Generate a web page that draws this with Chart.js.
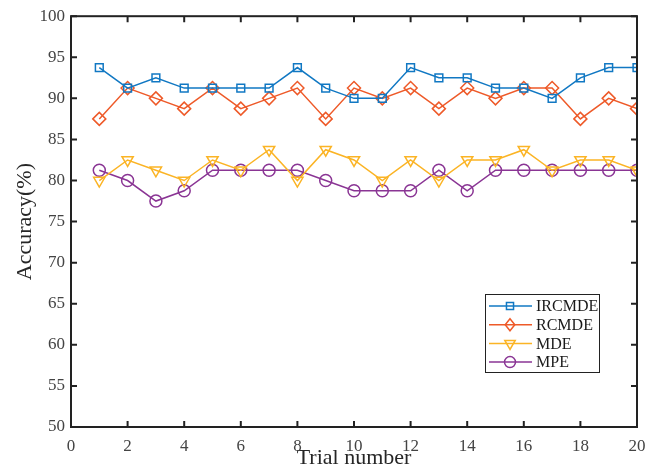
<!DOCTYPE html>
<html>
<head>
<meta charset="utf-8">
<script src="https://cdn.jsdelivr.net/npm/chart.js@4.4.1/dist/chart.umd.min.js"></script>
<style>
  html, body { margin: 0; padding: 0; background: #fff; }
  #wrap { width: 658px; height: 468px; }
</style>
</head>
<body>
<div id="wrap"><canvas id="chart" width="658" height="468"></canvas></div>
<script>
// data
const trials = [1, 2, 3, 4, 5, 6, 7, 8, 9, 10, 11, 12, 13, 14, 15, 16, 17, 18, 19, 20]
const ircmde = [93.75, 91.25, 92.5, 91.25, 91.25, 91.25, 91.25, 93.75, 91.25, 90, 90, 93.75, 92.5, 92.5, 91.25, 91.25, 90, 92.5, 93.75, 93.75]
const rcmde = [87.5, 91.25, 90, 88.75, 91.25, 88.75, 90, 91.25, 87.5, 91.25, 90, 91.25, 88.75, 91.25, 90, 91.25, 91.25, 87.5, 90, 88.75]
const mde = [80, 82.5, 81.25, 80, 82.5, 81.25, 83.75, 80, 83.75, 82.5, 80, 82.5, 80, 82.5, 82.5, 83.75, 81.25, 82.5, 82.5, 81.25]
const mpe = [81.25, 80, 77.5, 78.75, 81.25, 81.25, 81.25, 81.25, 80, 78.75, 78.75, 78.75, 81.25, 78.75, 81.25, 81.25, 81.25, 81.25, 81.25, 81.25]

const seriesNames = ['IRCMDE', 'RCMDE', 'MDE', 'MPE']
const seriesColors = ['#1178c3', '#ee5a29', '#fbb425', '#8a3594']
const seriesMarkers = ['rect', 'rectRot', 'triangle', 'circle']
const seriesRotation = [0, 0, 180, 0]
const seriesRadius = [5.5, 6.5, 6.5, 6]

const fontFamily = '"Liberation Serif", "Times New Roman", serif'
const axisColor = '#222'

const toPoints = (vals) => trials.map((t, i) => ({x: t, y: vals[i]}))
const allSeries = [ircmde, rcmde, mde, mpe]

const datasets = allSeries.map((vals, i) => ({
  label: seriesNames[i],
  data: toPoints(vals),
  borderColor: seriesColors[i],
  backgroundColor: 'transparent',
  borderWidth: 1.5,
  pointStyle: seriesMarkers[i],
  rotation: seriesRotation[i],
  pointRadius: seriesRadius[i],
  pointBorderWidth: 1.5,
  pointBackgroundColor: 'transparent',
  pointBorderColor: seriesColors[i],
  tension: 0,
}))

// draw a marker (for the legend)
function marker(ctx, style, x, y, r, rot) {
  ctx.beginPath()
  if (style === 'rect') {
    const s = r * Math.SQRT1_2
    ctx.rect(x - s, y - s, 2 * s, 2 * s)
  } else if (style === 'rectRot') {
    ctx.moveTo(x, y - r)
    ctx.lineTo(x + r * 0.8, y)
    ctx.lineTo(x, y + r)
    ctx.lineTo(x - r * 0.8, y)
    ctx.closePath()
  } else if (style === 'triangle') {
    const a = (rot || 0) * Math.PI / 180
    for (let k = 0; k < 3; k++) {
      const ang = a + k * 2 * Math.PI / 3
      const px = x + Math.sin(ang) * r
      const py = y - Math.cos(ang) * r
      if (k === 0) ctx.moveTo(px, py)
      else ctx.lineTo(px, py)
    }
    ctx.closePath()
  } else {
    ctx.arc(x, y, r, 0, Math.PI * 2)
  }
  ctx.stroke()
}

// box axes with inward ticks on all four sides
const frame = {
  id: 'frame',
  afterDatasetsDraw(chart) {
    const {ctx, chartArea: a, scales} = chart
    const tl = 6
    ctx.save()
    ctx.strokeStyle = axisColor
    ctx.lineWidth = 2
    ctx.strokeRect(a.left, a.top, a.right - a.left, a.bottom - a.top)
    ctx.beginPath()
    scales.x.ticks.forEach((t) => {
      const px = scales.x.getPixelForValue(t.value)
      ctx.moveTo(px, a.bottom); ctx.lineTo(px, a.bottom - tl)
      ctx.moveTo(px, a.top); ctx.lineTo(px, a.top + tl)
    })
    scales.y.ticks.forEach((t) => {
      const py = scales.y.getPixelForValue(t.value)
      ctx.moveTo(a.left, py); ctx.lineTo(a.left + tl, py)
      ctx.moveTo(a.right, py); ctx.lineTo(a.right - tl, py)
    })
    ctx.stroke()
    ctx.restore()
  },
}

// MATLAB style legend box
const legendBox = {
  id: 'legendBox',
  afterDraw(chart) {
    const {ctx} = chart
    const x0 = 485, y0 = 294, w = 114, h = 78
    const rowH = 18.7
    ctx.save()
    ctx.fillStyle = '#fff'
    ctx.fillRect(x0, y0, w, h)
    ctx.strokeStyle = axisColor
    ctx.lineWidth = 1
    ctx.strokeRect(x0 + 0.5, y0 + 0.5, w, h)
    ctx.font = '16px ' + fontFamily
    ctx.textBaseline = 'middle'
    chart.data.datasets.forEach((ds, i) => {
      const y = y0 + 12 + i * rowH
      ctx.strokeStyle = ds.borderColor
      ctx.lineWidth = 1.5
      ctx.beginPath()
      ctx.moveTo(x0 + 4, y); ctx.lineTo(x0 + 47, y)
      ctx.stroke()
      marker(ctx, seriesMarkers[i], x0 + 25, y, seriesRadius[i] - 0.5, seriesRotation[i])
      ctx.fillStyle = '#1a1a1a'
      ctx.fillText(ds.label, x0 + 51, y + 1)
    })
    ctx.restore()
  },
}

new Chart(document.getElementById('chart'), {
  type: 'line',
  data: {datasets},
  plugins: [frame, legendBox],
  options: {
    responsive: false,
    animation: false,
    layout: {padding: {top: 13, right: 21, left: 0, bottom: 0}},
    plugins: {legend: {display: false}, tooltip: {enabled: false}},
    scales: {
      x: {
        type: 'linear',
        min: 0,
        max: 20,
        afterFit: (s) => { s.height = 41 },
        grid: {display: false, drawTicks: false},
        border: {display: false},
        ticks: {stepSize: 2, padding: 9, color: '#444', font: {family: fontFamily, size: 17}},
        title: {display: true, text: 'Trial number', color: '#262626', padding: {top: 0, bottom: -3}, font: {family: fontFamily, size: 22}},
      },
      y: {
        min: 50,
        max: 100,
        afterFit: (s) => { s.width = 71 },
        grid: {display: false, drawTicks: false},
        border: {display: false},
        ticks: {stepSize: 5, padding: 6, color: '#444', font: {family: fontFamily, size: 17}},
        title: {display: true, text: 'Accuracy(%)', color: '#262626', padding: {top: 12, bottom: 0}, font: {family: fontFamily, size: 22}},
      },
    },
  },
})
</script>
</body>
</html>
